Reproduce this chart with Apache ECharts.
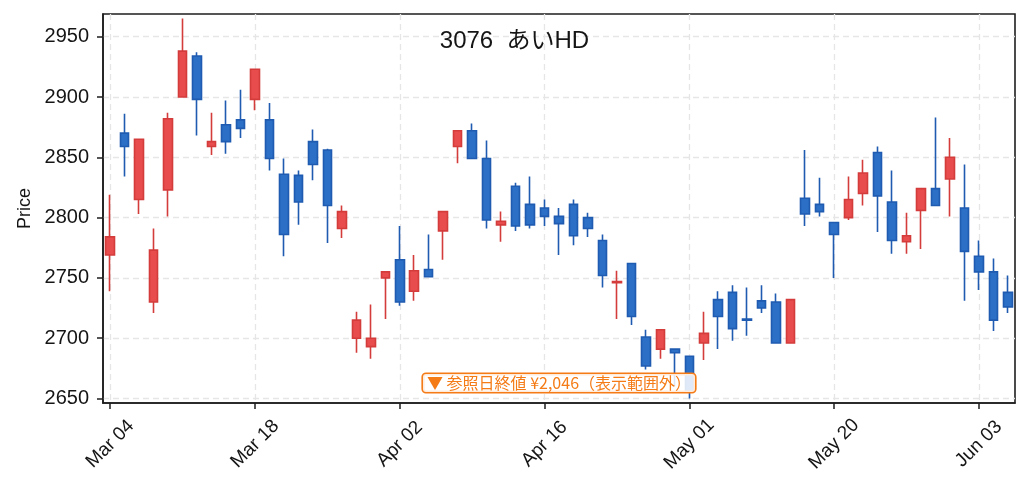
<!DOCTYPE html>
<html>
<head>
<meta charset="utf-8">
<script src="https://cdn.jsdelivr.net/npm/echarts@6/dist/echarts.min.js"></script>
<style>
  html, body { margin: 0; padding: 0; background: #fff; }
  #main { width: 1029px; height: 491px; }
</style>
</head>
<body>
<div id="main"></div>
<script>
// trading days (one day missing in the source data between May 01 and May 20)
const dates = [
  '2024-03-04', '2024-03-05', '2024-03-06', '2024-03-07', '2024-03-08',
  '2024-03-11', '2024-03-12', '2024-03-13', '2024-03-14', '2024-03-15',
  '2024-03-18', '2024-03-19', '2024-03-21', '2024-03-22', '2024-03-25',
  '2024-03-26', '2024-03-27', '2024-03-28', '2024-03-29', '2024-04-01',
  '2024-04-02', '2024-04-03', '2024-04-04', '2024-04-05', '2024-04-08',
  '2024-04-09', '2024-04-10', '2024-04-11', '2024-04-12', '2024-04-15',
  '2024-04-16', '2024-04-17', '2024-04-18', '2024-04-19', '2024-04-22',
  '2024-04-23', '2024-04-24', '2024-04-25', '2024-04-26', '2024-04-30',
  '2024-05-01', '2024-05-02', '2024-05-07', '2024-05-08', '2024-05-09',
  '2024-05-10', '2024-05-13', '2024-05-14', '2024-05-15', '2024-05-16',
  '2024-05-20', '2024-05-21', '2024-05-22', '2024-05-23', '2024-05-24',
  '2024-05-27', '2024-05-28', '2024-05-29', '2024-05-30', '2024-05-31',
  '2024-06-03', '2024-06-04', '2024-06-05'
];

const opens = [
  2769, 2870, 2815, 2730, 2823, 2900, 2934, 2859, 2877, 2881,
  2898, 2881, 2836, 2835, 2863, 2856, 2791, 2700, 2693, 2750,
  2765, 2739, 2757, 2789, 2859, 2872, 2849, 2794, 2826, 2811,
  2808, 2801, 2811, 2800, 2781, 2746, 2762, 2701, 2691, 2691,
  2685, 2696, 2732, 2738, 2716, 2731, 2730, 2696, 2816, 2811,
  2796, 2800, 2820, 2854, 2813, 2780, 2806, 2824, 2832, 2808,
  2768, 2755, 2738
];
const closes = [
  2784, 2859, 2865, 2773, 2882, 2938, 2898, 2863, 2863, 2874,
  2923, 2849, 2786, 2813, 2844, 2810, 2805, 2715, 2700, 2755,
  2730, 2756, 2751, 2805, 2872, 2849, 2798, 2797, 2793, 2794,
  2801, 2795, 2785, 2791, 2752, 2747, 2718, 2677, 2707, 2688,
  2656, 2704, 2718, 2708, 2715, 2725, 2696, 2732, 2803, 2805,
  2786, 2815, 2837, 2818, 2781, 2785, 2824, 2810, 2850, 2772,
  2755, 2715, 2726
];
const lows = [
  2739, 2834, 2803, 2721, 2801, 2900, 2868, 2852, 2853, 2866,
  2889, 2839, 2768, 2794, 2831, 2779, 2783, 2688, 2683, 2716,
  2727, 2731, 2751, 2765, 2845, 2849, 2791, 2780, 2789, 2791,
  2793, 2769, 2777, 2784, 2742, 2716, 2711, 2674, 2683, 2660,
  2650, 2682, 2691, 2698, 2702, 2721, 2696, 2696, 2793, 2801,
  2750, 2798, 2810, 2788, 2770, 2770, 2774, 2810, 2801, 2731,
  2740, 2706, 2721
];
const highs = [
  2819, 2886, 2865, 2791, 2887, 2965, 2937, 2887, 2897, 2906,
  2923, 2895, 2849, 2839, 2873, 2857, 2810, 2722, 2728, 2755,
  2793, 2769, 2786, 2805, 2872, 2878, 2864, 2805, 2829, 2834,
  2815, 2808, 2815, 2804, 2786, 2756, 2762, 2707, 2707, 2691,
  2685, 2722, 2739, 2744, 2742, 2744, 2737, 2732, 2856, 2833,
  2796, 2834, 2848, 2859, 2839, 2804, 2824, 2883, 2866, 2844,
  2781, 2766, 2752
];

const priceTicks = [2650, 2700, 2750, 2800, 2850, 2900, 2950];
const dateTickEvery = 10;
const refClose = 2046;
const title = '3076  あいHD';

const months = ['Jan', 'Feb', 'Mar', 'Apr', 'May', 'Jun', 'Jul', 'Aug', 'Sep', 'Oct', 'Nov', 'Dec'];
const fmtDate = (s) => months[parseInt(s.slice(5, 7), 10) - 1] + ' ' + s.slice(8, 10);

const candles = dates.map((d, i) => [opens[i], closes[i], lows[i], highs[i]]);

const FONT = "'Liberation Sans', 'Noto Sans CJK JP', sans-serif";
const CJK = "'Noto Sans CJK JP', 'Liberation Sans', sans-serif";
const gridL = 103, gridR = 14, gridT = 14, gridB = 88;
const W = 1029, H = 491;

const onTick = (i) => i % dateTickEvery === 0;
const gridLine = { color: '#e6e6e6', width: 1.3, type: [6, 4] };

const chart = echarts.init(document.getElementById('main'));
chart.setOption({
  animation: false,
  backgroundColor: '#fff',
  title: {
    text: title,
    left: 'center',
    top: 24,
    textStyle: { fontFamily: FONT, fontSize: 24, fontWeight: 'normal', color: '#151515' }
  },
  grid: {
    left: gridL, right: gridR, top: gridT, bottom: gridB,
    show: true, borderColor: '#1e1e1e', borderWidth: 1.6, backgroundColor: 'transparent'
  },
  xAxis: {
    type: 'category',
    data: dates,
    boundaryGap: true,
    axisLine: { show: true, lineStyle: { color: '#1e1e1e', width: 1.6 } },
    axisTick: { show: true, alignWithLabel: true, interval: onTick, length: 6, lineStyle: { color: '#1e1e1e', width: 1.5 } },
    axisLabel: {
      interval: onTick,
      rotate: 45,
      align: 'center',
      verticalAlign: 'middle',
      margin: 41,
      formatter: fmtDate,
      fontFamily: FONT, fontSize: 19, color: '#151515'
    },
    splitLine: { show: true, interval: onTick, alignWithLabel: true, lineStyle: gridLine }
  },
  yAxis: {
    type: 'value',
    min: 2646.3,
    max: 2968.8,
    scale: true,
    name: 'Price',
    nameLocation: 'middle',
    nameGap: 66,
    nameTextStyle: { fontFamily: FONT, fontSize: 18, color: '#151515' },
    axisLine: { show: true, lineStyle: { color: '#1e1e1e', width: 1.6 } },
    axisTick: { show: true, length: 6, customValues: priceTicks, lineStyle: { color: '#1e1e1e', width: 1.5 } },
    axisLabel: {
      customValues: priceTicks,
      formatter: (v) => String(v),
      margin: 14,
      fontFamily: FONT, fontSize: 20, color: '#151515'
    },
    splitLine: { show: true, lineStyle: gridLine }
  },
  series: [{
    type: 'candlestick',
    data: candles,
    barWidth: 9,
    itemStyle: {
      color: '#e84c4c',
      color0: '#2c6fc6',
      borderColor: '#d43c3c',
      borderColor0: '#1f5bb0',
      borderWidth: 1.6
    }
  }],
  graphic: [{
    type: 'text',
    x: gridL + (W - gridL - gridR) / 2,
    y: H - gridB - 20,
    z: 100,
    style: {
      text: '▼ 参照日終値 ¥' + refClose.toLocaleString('en-US') + '（表示範囲外）',
      fontFamily: CJK,
      fontSize: 16,
      fill: '#f47b16',
      align: 'center',
      verticalAlign: 'middle',
      backgroundColor: 'rgba(255,255,255,0.85)',
      borderColor: '#f47b16',
      borderWidth: 1.6,
      borderRadius: 3,
      padding: [1, 4, 1, 4]
    }
  }]
});
</script>
</body>
</html>
